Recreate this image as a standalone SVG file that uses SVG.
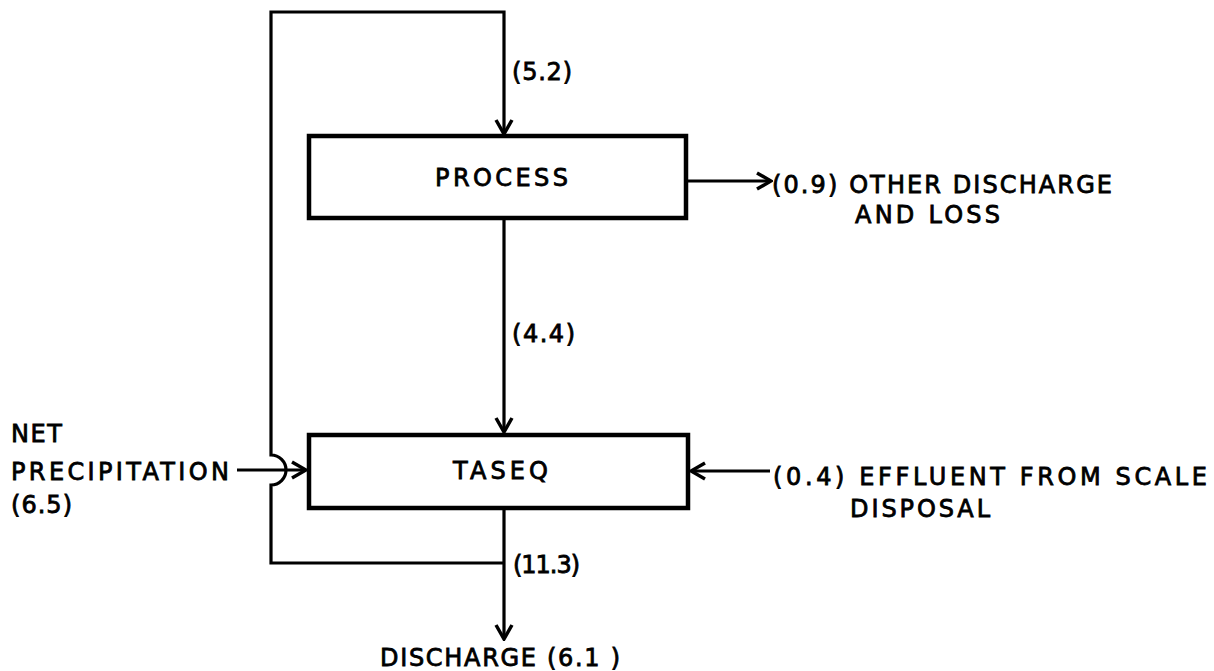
<svg xmlns="http://www.w3.org/2000/svg" width="1214" height="671" viewBox="0 0 1214 671">
<style>
.box{fill:#fff;stroke:#000;stroke-width:4.5}
.ln{fill:none;stroke:#000;stroke-width:3.2}
text{font-family:"DejaVu Sans","Liberation Sans",sans-serif;font-size:24px;fill:#000;stroke:#000;stroke-width:0.8}
</style>
<defs>
<marker id="ah" viewBox="0 0 20 20" refX="18" refY="10" markerWidth="20" markerHeight="20" markerUnits="userSpaceOnUse" orient="auto">
<path d="M4,2 L18,10 L4,18" fill="none" stroke="#000" stroke-width="3.5"/>
</marker>
</defs>
<rect width="1214" height="671" fill="#fff"/>
<g id="connectors">
<path class="ln" d="M504,218 V432" marker-end="url(#ah)"/>
<path class="ln" d="M504,508 V639" marker-end="url(#ah)"/>
<path class="ln" d="M504,563 H271 V485 A15,15 0 0 0 271,455 V12 H504 V134" marker-end="url(#ah)"/>
<path class="ln" d="M237,470 H306" marker-end="url(#ah)"/>
<path class="ln" d="M770,471 H691" marker-end="url(#ah)"/>
<path class="ln" d="M688,181 H771" marker-end="url(#ah)"/>
</g>
<g id="process">
<rect class="box" x="309" y="136" width="377" height="82"/>
<text x="435" y="186" textLength="133" lengthAdjust="spacing">PROCESS</text>
</g>
<g id="taseq">
<rect class="box" x="309" y="435" width="379" height="73"/>
<text x="453" y="479" textLength="95" lengthAdjust="spacing">TASEQ</text>
</g>
<g id="labels">
<text x="512" y="80" textLength="60" lengthAdjust="spacing">(5.2)</text>
<text x="512" y="342" textLength="63" lengthAdjust="spacing">(4.4)</text>
<text x="513" y="573" textLength="67" lengthAdjust="spacing">(11.3)</text>
<text x="380" y="666" textLength="240" lengthAdjust="spacing">DISCHARGE (6.1 )</text>
<text x="11" y="442" textLength="51" lengthAdjust="spacing">NET</text>
<text x="11" y="480" textLength="218" lengthAdjust="spacing">PRECIPITATION</text>
<text x="11" y="513" textLength="61" lengthAdjust="spacing">(6.5)</text>
<text x="772" y="193" textLength="340" lengthAdjust="spacing">(0.9) OTHER DISCHARGE</text>
<text x="855" y="223" textLength="145" lengthAdjust="spacing">AND LOSS</text>
<text x="773" y="485" textLength="434" lengthAdjust="spacing">(0.4) EFFLUENT FROM SCALE</text>
<text x="850" y="517" textLength="140" lengthAdjust="spacing">DISPOSAL</text>
</g>
</svg>
